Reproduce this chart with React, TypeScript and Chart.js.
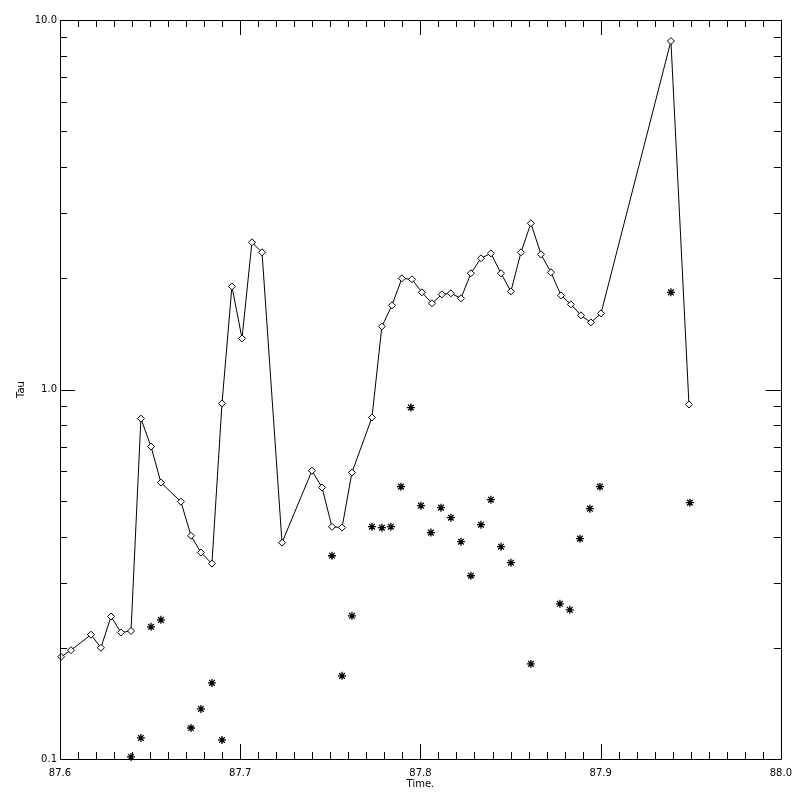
import React, { useEffect, useRef } from "react";
import { Chart, registerables } from "chart.js";

Chart.register(...registerables);

// Diamond series (connected by a line)
const lineTimes = [
  87.6006, 87.6061, 87.6172, 87.6227, 87.6283, 87.6338, 87.6394, 87.6449, 87.6505, 87.6560,
  87.6671, 87.6727, 87.6782, 87.6843, 87.6899, 87.6954, 87.7010, 87.7065, 87.7121, 87.7232,
  87.7398, 87.7454, 87.7509, 87.7565, 87.7620, 87.7731, 87.7786, 87.7842, 87.7897, 87.7953,
  87.8008, 87.8064, 87.8119, 87.8169, 87.8225, 87.8280, 87.8336, 87.8391, 87.8447, 87.8502,
  87.8558, 87.8613, 87.8669, 87.8724, 87.8780, 87.8835, 87.8891, 87.8946, 87.9002, 87.9390,
  87.9490,
];
const lineTau = [
  0.189, 0.197, 0.217, 0.200, 0.243, 0.220, 0.222, 0.834, 0.701, 0.560,
  0.497, 0.402, 0.362, 0.338, 0.917, 1.901, 1.375, 2.502, 2.351, 0.385,
  0.603, 0.543, 0.425, 0.423, 0.596, 0.840, 1.481, 1.689, 1.999, 1.987,
  1.832, 1.711, 1.809, 1.821, 1.765, 2.063, 2.265, 2.336, 2.063, 1.843,
  2.351, 2.818, 2.322, 2.076, 1.798, 1.700, 1.587, 1.519, 1.607, 8.772,
  0.911,
];

// Star series (symbols only)
const starTimes = [
  87.6394, 87.6449, 87.6505, 87.6560, 87.6727, 87.6782, 87.6843, 87.6899, 87.7509, 87.7565,
  87.7620, 87.7731, 87.7786, 87.7836, 87.7892, 87.7947, 87.8003, 87.8058, 87.8114, 87.8169,
  87.8225, 87.8280, 87.8336, 87.8391, 87.8447, 87.8502, 87.8613, 87.8774, 87.8829, 87.8885,
  87.8940, 87.8996, 87.9390, 87.9495,
];
const starTau = [
  0.1013, 0.1140, 0.2279, 0.2380, 0.1213, 0.1366, 0.1607, 0.1126, 0.3549, 0.1679,
  0.2441, 0.4253, 0.4227, 0.4253, 0.5459, 0.8937, 0.4849, 0.4099, 0.4789, 0.4498,
  0.3874, 0.3133, 0.4306, 0.5033, 0.3754, 0.3399, 0.1809, 0.2630, 0.2534, 0.3948,
  0.4759, 0.5459, 1.832, 0.4941,
];

const xMin = 87.6;
const xMax = 88.0;
const xMajorStep = 0.1;
const xMinorDivisions = 10;
const yMin = 0.1;
const yMax = 10;
const xTitle = "Time.";
const yTitle = "Tau";

const FONT = "'DejaVu Sans', sans-serif";

const frameTicks = {
  id: "frameTicks",
  afterDatasetsDraw(chart: any) {
    const { ctx, chartArea } = chart;
    const xs = chart.scales.x;
    const ys = chart.scales.y;
    const L = chartArea.left, R = chartArea.right, T = chartArea.top, B = chartArea.bottom;
    const major = 15, minor = 7;
    ctx.save();
    ctx.strokeStyle = "#000";
    ctx.lineWidth = 1;
    const hl = (v: number) => Math.round(v) + 0.5;
    ctx.beginPath();
    ctx.rect(hl(L), hl(T), Math.round(R) - Math.round(L), Math.round(B) - Math.round(T));
    ctx.stroke();
    ctx.beginPath();
    const nX = Math.round((xMax - xMin) / xMajorStep) * xMinorDivisions;
    for (let k = 0; k <= nX; k++) {
      const v = xMin + (k * xMajorStep) / xMinorDivisions;
      const px = hl(xs.getPixelForValue(v));
      const len = k % xMinorDivisions === 0 ? major : minor;
      ctx.moveTo(px, B);
      ctx.lineTo(px, B - len);
      ctx.moveTo(px, T);
      ctx.lineTo(px, T + len);
    }
    for (let d = yMin; d < yMax * 0.999; d *= 10) {
      for (let m = 1; m <= 10; m++) {
        const v = d * m;
        const py = hl(ys.getPixelForValue(v));
        const len = m === 1 || m === 10 ? major : minor;
        ctx.moveTo(L, py);
        ctx.lineTo(L + len, py);
        ctx.moveTo(R, py);
        ctx.lineTo(R - len, py);
      }
    }
    ctx.stroke();
    ctx.restore();
  },
};

export default function App() {
  const ref = useRef<HTMLCanvasElement | null>(null);
  useEffect(() => {
    if (!ref.current) return;
    const chart = new Chart(ref.current, {
      type: "scatter",
      data: {
        datasets: [
          {
            data: lineTimes.map((t, i) => ({ x: t, y: lineTau[i] })),
            showLine: true,
            borderColor: "#000",
            borderWidth: 1,
            pointStyle: "rectRot",
            pointRadius: 3.5,
            pointBackgroundColor: "#fff",
            pointBorderColor: "#000",
            pointBorderWidth: 1,
            tension: 0,
            clip: false as any,
          },
          {
            data: starTimes.map((t, i) => ({ x: t, y: starTau[i] })),
            showLine: false,
            pointStyle: "star",
            pointRadius: 4,
            pointBorderColor: "#000",
            pointBackgroundColor: "#000",
            pointBorderWidth: 1.3,
            clip: false as any,
          },
        ],
      },
      options: {
        animation: false,
        responsive: false,
        maintainAspectRatio: false,
        layout: { padding: { top: 20, right: 18, left: 0, bottom: 0 } },
        plugins: { legend: { display: false }, tooltip: { enabled: false } },
        scales: {
          x: {
            type: "linear",
            min: xMin,
            max: xMax,
            grid: { display: false, drawTicks: false },
            border: { display: false },
            ticks: {
              stepSize: xMajorStep,
              autoSkip: false,
              maxRotation: 0,
              padding: 8,
              color: "#000",
              font: { family: FONT, size: 10 },
              callback: (v: any) => Number(v).toFixed(1),
            },
            title: {
              display: true,
              text: xTitle,
              color: "#000",
              font: { family: FONT, size: 10 },
              padding: { top: 0, bottom: 10 },
            },
            afterFit: (s: any) => {
              s.height = 41;
            },
          },
          y: {
            type: "logarithmic",
            min: yMin,
            max: yMax,
            grid: { display: false, drawTicks: false },
            border: { display: false },
            ticks: {
              autoSkip: false,
              padding: 3,
              color: "#000",
              font: { family: FONT, size: 10 },
              callback: (v: any) => {
                const l = Math.log10(Number(v));
                if (Math.abs(l - Math.round(l)) < 1e-6) return Number(v).toFixed(1);
                return "";
              },
            },
            title: {
              display: true,
              text: yTitle,
              color: "#000",
              font: { family: FONT, size: 10 },
              padding: { top: 15, bottom: 0 },
            },
            afterFit: (s: any) => {
              s.width = 60;
            },
          },
        },
      },
      plugins: [frameTicks],
    });
    return () => chart.destroy();
  }, []);
  return (
    <div style={{ position: "absolute", left: 0, top: 0, width: 800, height: 800, background: "#fff" }}>
      <canvas ref={ref} width={800} height={800} style={{ width: 800, height: 800, display: "block" }} />
    </div>
  );
}
